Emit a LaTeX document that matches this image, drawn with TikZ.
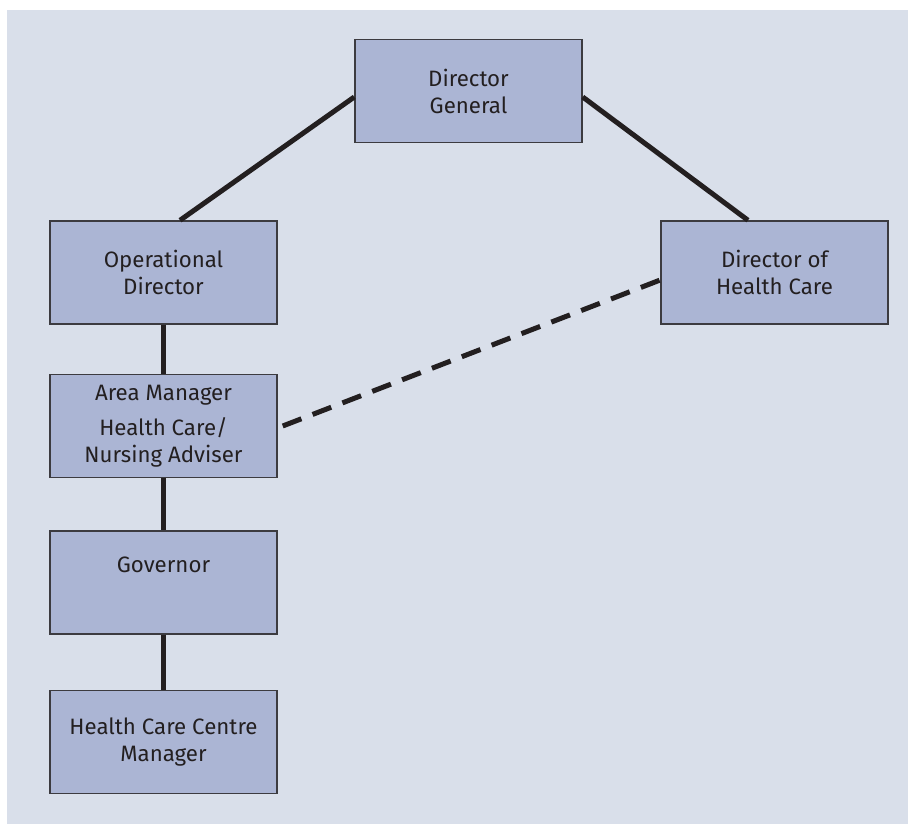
\documentclass[tikz,border=0pt]{standalone}
\usepackage{fontspec}
\setmainfont{Fira Sans}
\definecolor{panel}{HTML}{D9DFEA}
\definecolor{boxfill}{HTML}{ABB5D4}
\definecolor{boxline}{HTML}{3C3B40}
\definecolor{ink}{HTML}{231F20}
\begin{document}
\begin{tikzpicture}[x=0.75pt,y=-0.75pt,
  post/.style={draw=boxline,line width=1.1pt,fill=boxfill,rectangle,
    minimum width=170.25pt,minimum height=77.25pt,inner sep=0pt,
    align=center,text=ink,font=\fontsize{16.7}{20.25}\selectfont},
  link/.style={draw=ink,line width=3.75pt},
  advice/.style={link,dash pattern=on 15pt off 9pt}]
  % page and panel
  \useasboundingbox (0,0) rectangle (908,824);
  \fill[white] (0,0) rectangle (908,824);
  \fill[panel] (7,10) rectangle (908,824);
  % posts
  \node[post] (dg)  at (468.5,91)   {Director\\General};
  \node[post] (od)  at (163.5,272.5) {Operational\\Director};
  \node[post] (dhc) at (774.5,272.5) {Director of\\Health Care};
  \node[post] (am)  at (163.5,426)  {Area Manager\\[6pt]Health Care/\\Nursing Adviser};
  \node[post] (gov) at (163.5,582.5) {Governor\\\strut};
  \node[post] (hcm) at (163.5,742)  {Health Care Centre\\Manager};
  % lines of management
  \draw[link] ([yshift=-4.5pt]dg.west) -- ([xshift=12.4pt]od.north);
  \draw[link] ([yshift=-4.5pt]dg.east) -- ([xshift=-19.9pt]dhc.north);
  \draw[link] (od.south) -- (am.north);
  \draw[link] (am.south) -- (gov.north);
  \draw[link] (gov.south) -- (hcm.north);
  % professional line
  \draw[advice] ([xshift=3.75pt]am.east) -- ([yshift=-5.6pt]dhc.west);
\end{tikzpicture}
\end{document}
